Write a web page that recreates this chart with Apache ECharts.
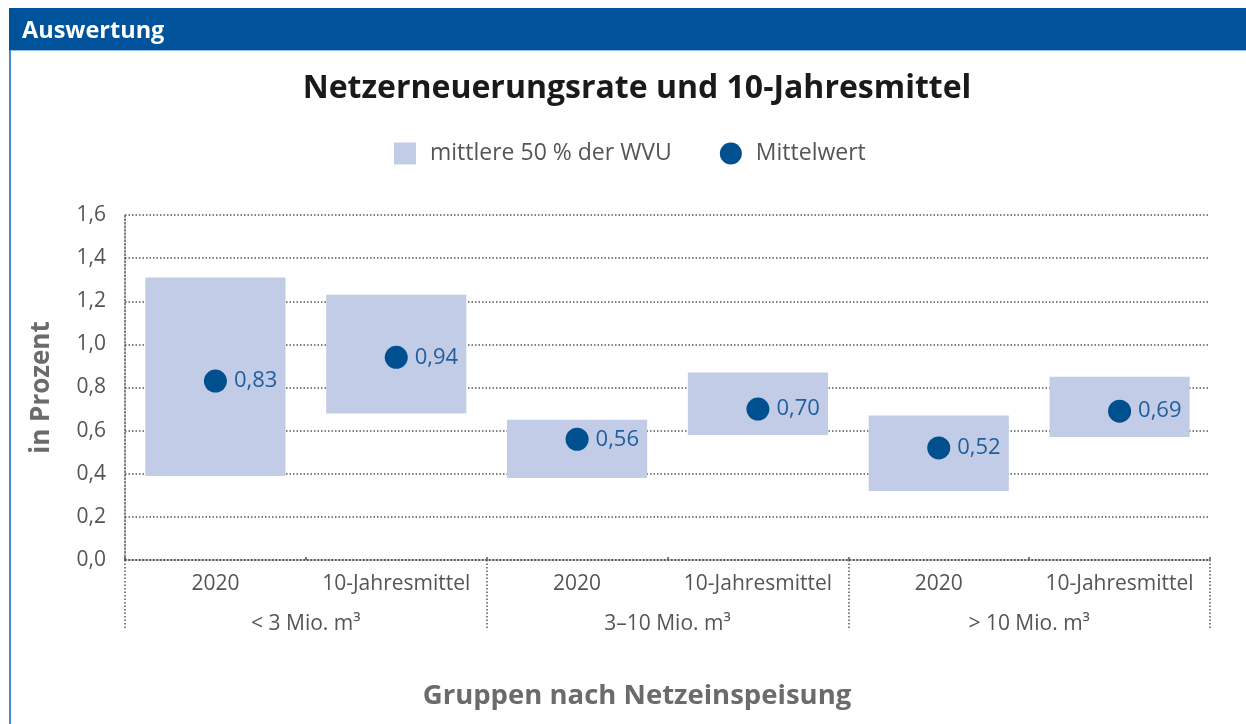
<!DOCTYPE html>
<html>
<head>
<meta charset="utf-8">
<script src="https://cdn.jsdelivr.net/npm/echarts@6/dist/echarts.min.js"></script>
<style>
  html, body { margin: 0; padding: 0; background: #fff; }
  #chart { width: 1246px; height: 724px; }
</style>
</head>
<body>
<div id="chart"></div>
<script>
// Netzerneuerungsrate: interquartile band (mittlere 50 %) and mean per group
const categories = ['2020', '10-Jahresmittel', '2020', '10-Jahresmittel', '2020', '10-Jahresmittel'];
const groups = ['< 3 Mio. m³', '3–10 Mio. m³', '> 10 Mio. m³'];
const bandLow = [0.39, 0.68, 0.38, 0.58, 0.32, 0.57];
const bandHigh = [1.31, 1.23, 0.65, 0.87, 0.67, 0.85];
const meanValues = [0.83, 0.94, 0.56, 0.70, 0.52, 0.69];

const FONT = '"Open Sans", "Noto Sans", sans-serif';
const GRID_DOT = { color: '#555', width: 1.5, type: [1.5, 2] };

const chart = echarts.init(document.getElementById('chart'), null, { renderer: 'canvas' });

const bandData = categories.map((c, i) => [i, bandLow[i], bandHigh[i]]);
const meanData = categories.map((c, i) => [i, meanValues[i]]);

chart.setOption({
  backgroundColor: '#fff',
  animation: false,
  textStyle: { fontFamily: FONT },
  title: [
    {
      text: 'Netzerneuerungsrate und 10-Jahresmittel',
      left: 632, top: 68, textAlign: 'center',
      textStyle: { fontFamily: FONT, fontSize: 32, fontWeight: 'bold', color: '#1a1a1a' }
    },
    {
      text: 'Gruppen nach Netzeinspeisung',
      left: 632, top: 677, textAlign: 'center',
      textStyle: { fontFamily: FONT, fontSize: 27.5, fontWeight: 'bold', color: '#6b6b6b' }
    }
  ],
  legend: {
    top: 137, left: 389,
    itemWidth: 22, itemHeight: 22, itemGap: 48,
    textStyle: { fontFamily: FONT, fontSize: 23, color: '#555', padding: [0, 0, 0, 9] },
    data: [
      { name: 'mittlere 50 % der WVU', icon: 'rect' },
      { name: 'Mittelwert', icon: 'circle' }
    ]
  },
  graphic: [
    { type: 'rect', shape: { x: 9, y: 8, width: 1237, height: 42 }, style: { fill: '#00539a' }, z: 10 },
    { type: 'rect', shape: { x: 9, y: 50, width: 1237, height: 1 }, style: { fill: '#9cc0e6' }, z: 10 },
    { type: 'rect', shape: { x: 9, y: 50, width: 2, height: 674 }, style: { fill: '#4a8ccb' }, z: 10 },
    {
      type: 'text', left: 22, top: 19, z: 11,
      style: { text: 'Auswertung', fill: '#fff', font: 'bold 23.5px ' + FONT }
    }
  ],
  grid: { left: 125, right: 36, top: 215, bottom: 164 },
  xAxis: [
    {
      type: 'category', data: categories, position: 'bottom',
      axisLine: { show: true, lineStyle: GRID_DOT },
      axisTick: { show: true, inside: true, length: 3, lineStyle: { color: '#555', width: 1.5 } },
      axisLabel: { color: '#555', fontSize: 21, margin: 14, fontFamily: FONT, interval: 0 }
    },
    {
      type: 'category', data: groups, position: 'bottom',
      axisLine: { show: false },
      axisTick: { show: true, length: 70, lineStyle: GRID_DOT },
      axisLabel: { color: '#555', fontSize: 21, margin: 54, fontFamily: FONT, interval: 0 }
    }
  ],
  yAxis: {
    type: 'value', min: 0, max: 1.6, interval: 0.2,
    name: 'in Prozent', nameLocation: 'middle', nameGap: 70, nameRotate: 90,
    nameTextStyle: { fontFamily: FONT, fontSize: 26, fontWeight: 'bold', color: '#6b6b6b' },
    axisLine: { show: true, lineStyle: GRID_DOT },
    axisTick: { show: false },
    axisLabel: {
      color: '#555', fontSize: 21, margin: 19, fontFamily: FONT,
      formatter: v => v.toFixed(1).replace('.', ',')
    },
    splitLine: { show: true, lineStyle: GRID_DOT }
  },
  series: [
    {
      name: 'mittlere 50 % der WVU',
      type: 'custom',
      xAxisIndex: 0,
      itemStyle: { color: '#c2cce6' },
      encode: { x: 0, y: [1, 2] },
      renderItem: (params, api) => {
        const idx = api.value(0);
        const lo = api.coord([idx, api.value(1)]);
        const hi = api.coord([idx, api.value(2)]);
        const w = api.size([1, 0])[0] * 0.775;
        return {
          type: 'rect',
          shape: { x: lo[0] - w / 2, y: hi[1], width: w, height: lo[1] - hi[1] },
          style: { fill: '#c2cce6' }
        };
      },
      data: bandData,
      z: 2
    },
    {
      name: 'Mittelwert',
      type: 'scatter',
      xAxisIndex: 0,
      symbol: 'circle',
      symbolSize: 23,
      itemStyle: { color: '#00508f', opacity: 1 },
      label: {
        show: true, position: 'right', distance: 7,
        color: '#1f5e9e', fontSize: 22, fontFamily: FONT,
        formatter: p => p.value[1].toFixed(2).replace('.', ',')
      },
      data: meanData,
      z: 5
    }
  ]
});
</script>
</body>
</html>
